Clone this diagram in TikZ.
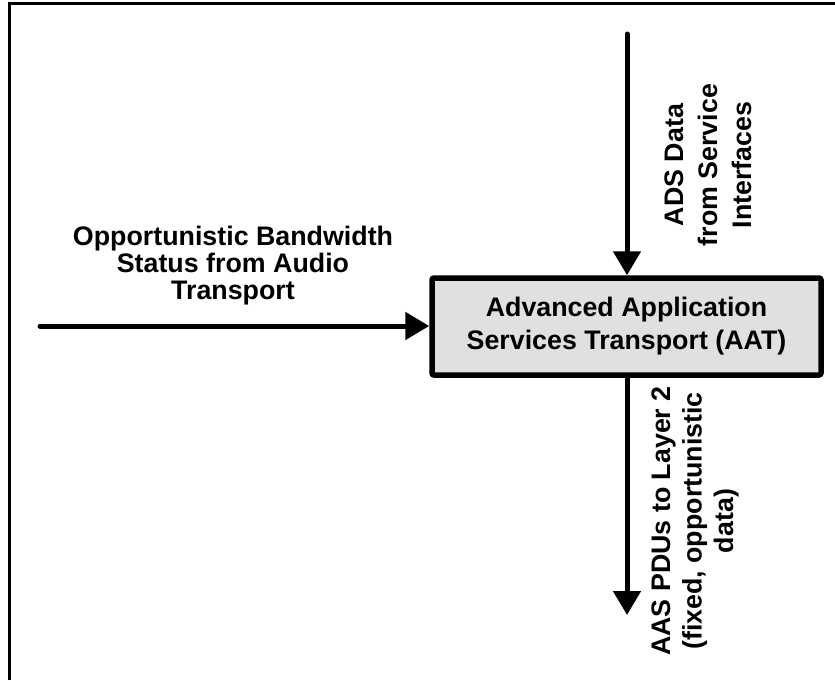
\documentclass[tikz,border=0pt]{standalone}
\usepackage{fontspec}
\setmainfont{Liberation Sans}
\usetikzlibrary{arrows.meta}
\definecolor{boxfill}{RGB}{224,224,224}
\tikzset{
  flow/.style={line width=5pt, line cap=round,
    -{Triangle[length=24pt,width=27pt]}},
  mainbox/.style={draw, line width=5.5pt, fill=boxfill, rounded corners=2pt,
    minimum width=389pt, minimum height=97pt, inner sep=0pt, align=center,
    font=\fontsize{26.8}{33}\selectfont\bfseries},
  lbl/.style={align=center, inner sep=0pt,
    font=\fontsize{26.8}{27}\selectfont\bfseries},
}
\begin{document}
\begin{tikzpicture}[x=1pt,y=-1pt]
  \useasboundingbox (0,0) rectangle (835,680);
  % frame edges
  \draw[line width=3pt] (9.5,680) -- (9.5,3.5) -- (835,3.5);

  \node[mainbox] (aat) at (626.5,326.5)
    {Advanced Application\\Services Transport (AAT)};

  \coordinate (srcL) at (40,326);
  \coordinate (srcT) at (627,34);
  \coordinate (sinkB) at (627,615);

  \draw[flow] (srcL) -- (aat.west |- srcL);
  \draw[flow] (srcT) -- (srcT |- aat.north);
  \draw[flow] (sinkB |- aat.south) -- (sinkB);

  \node[lbl] (lblL) at (233,266)
    {Opportunistic Bandwidth\\Status from Audio\\Transport};
  \node[lbl, rotate=90, font=\fontsize{26.8}{34}\selectfont\bfseries]
    (lblT) at (708,165) {ADS Data\\from Service\\Interfaces};
  \node[lbl, rotate=90, font=\fontsize{26.8}{31.5}\selectfont\bfseries]
    (lblB) at (695,521) {AAS PDUs to Layer 2\\(fixed, opportunistic\\data)};
\end{tikzpicture}
\end{document}
